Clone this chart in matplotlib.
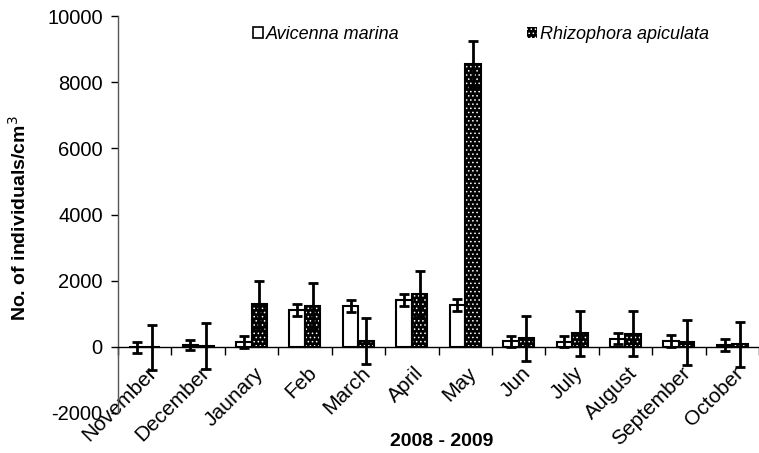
import matplotlib.pyplot as plt
import matplotlib.transforms as mtransforms
import numpy as np
from matplotlib.patches import Patch

plt.rcParams['font.family'] = ['Liberation Sans', 'DejaVu Sans']
plt.rcParams['hatch.linewidth'] = 0.6
plt.rcParams['axes.unicode_minus'] = False

# data
months = ['November', 'December', 'Jaunary', 'Feb', 'March', 'April', 'May',
          'Jun', 'July', 'August', 'September', 'October']
avicenna = [-20, 60, 140, 1100, 1230, 1420, 1260, 170, 150, 250, 180, 50]
avicenna_err = [160, 160, 180, 180, 175, 175, 175, 170, 170, 160, 180, 180]
rhizophora = [-20, 30, 1280, 1230, 180, 1600, 8550, 260, 410, 400, 140, 80]
rhizophora_err = [680, 690, 700, 690, 690, 700, 690, 680, 680, 690, 685, 685]

W, H = 759, 453
fig = plt.figure(figsize=(W / 100, H / 100), dpi=100)
ax = fig.add_axes([118 / W, (H - 413) / H, (W - 118) / W, (413 - 16) / H])

x = np.arange(len(months))
bw = 0.29

# white bars
ax.bar(x - bw / 2, avicenna, bw, color='white', edgecolor='black', linewidth=1.5, zorder=2)
ax.errorbar(x - bw / 2, avicenna, yerr=avicenna_err, fmt='none', ecolor='black',
            elinewidth=2, capsize=3.5, capthick=2, zorder=4)

# black dotted bars: fill + white dots, then black outline
ax.bar(x + bw / 2, rhizophora, bw, color='black', edgecolor='white', hatch='....',
       linewidth=0, zorder=2)
ax.bar(x + bw / 2, rhizophora, bw, fill=False, edgecolor='black', linewidth=1.5, zorder=3)
ax.errorbar(x + bw / 2, rhizophora, yerr=rhizophora_err, fmt='none', ecolor='black',
            elinewidth=2, capsize=3.5, capthick=2, zorder=4)

ax.set_xlim(-0.5, -0.5 + (W - 118) / 54.1)
ax.set_ylim(-2000, 10000)
ax.set_yticks(range(-2000, 10001, 2000))

for s in ['top', 'right']:
    ax.spines[s].set_visible(False)
ax.spines['bottom'].set_position(('data', 0))
ax.spines['bottom'].set_linewidth(1.0)
ax.spines['left'].set_linewidth(1.0)
ax.spines['left'].set_color('#555555')

ax.set_xticks(x)
ax.set_xticklabels(months, rotation=45, ha='right', rotation_mode='anchor')
ax.set_xticks(np.arange(-0.5, len(months), 1), minor=True)
ax.tick_params(axis='x', which='major', length=0, labelsize=15, pad=12)
ax.tick_params(axis='x', which='minor', length=6, direction='out', width=1)
ax.tick_params(axis='y', length=5, direction='out', labelsize=14.5, pad=6, width=1)

# nudge month labels right like the original
shift = mtransforms.ScaledTranslation(2 / 100, 0, fig.dpi_scale_trans)
for lbl in ax.get_xticklabels():
    lbl.set_transform(lbl.get_transform() + shift)

fig.text(19 / W, 1 - 218 / H, 'No. of individuals/cm$^3$', rotation=90, ha='center',
         va='center', fontsize=14, fontweight='bold')
fig.text(442 / W, 1 - 442 / H, '2008 - 2009', ha='center', va='center',
         fontsize=14, fontweight='bold')

h1 = Patch(facecolor='white', edgecolor='black', linewidth=1.2, label='Avicenna marina')
h2 = Patch(facecolor='black', edgecolor='white', hatch='....', linewidth=0,
           label='Rhizophora apiculata')
for h, xpos in [(h1, 240), (h2, 514)]:
    fig.legend(handles=[h], loc='upper left', bbox_to_anchor=(xpos / W, 1 - 13 / H),
               frameon=False, handlelength=0.55, handleheight=0.55, handletextpad=0.2,
               borderpad=0.2, prop={'style': 'italic', 'size': 13})

fig.savefig('out.png', dpi=100)
